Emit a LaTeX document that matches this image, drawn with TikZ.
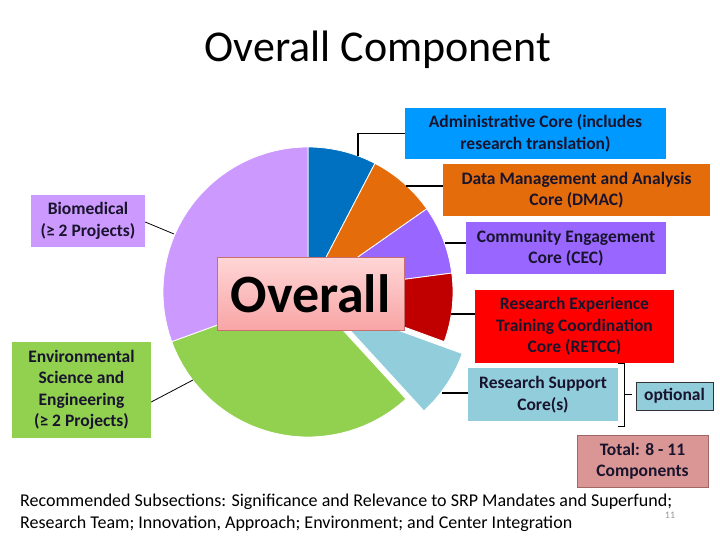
\documentclass[tikz,border=0pt]{standalone}
\usepackage{fontspec}
\setmainfont{Carlito}
\definecolor{pBlue}{RGB}{0,112,192}
\definecolor{pOrange}{RGB}{228,108,10}
\definecolor{pPurple}{RGB}{153,102,255}
\definecolor{pRed}{RGB}{192,0,0}
\definecolor{pLBlue}{RGB}{146,205,220}
\definecolor{pGreen}{RGB}{146,208,80}
\definecolor{pLav}{RGB}{204,153,255}
\definecolor{bBlue}{RGB}{0,153,255}
\definecolor{bRed}{RGB}{255,0,0}
\definecolor{bTotal}{RGB}{217,150,148}
\definecolor{txtDark}{RGB}{25,20,45}
\definecolor{pinkTop}{RGB}{255,214,214}
\definecolor{pinkBot}{RGB}{248,165,165}
\definecolor{pinkLine}{RGB}{200,110,110}
\begin{document}
\begin{tikzpicture}[x=1pt,y=-1pt,
  box/.style={inner sep=0pt, align=center, text=txtDark,
    font=\bfseries\fontsize{17.5}{21.5}\selectfont},
  conn/.style={draw=black, line width=1.5pt},
  thin conn/.style={draw=black, line width=0.8pt},
  slice/.style={draw=white, line width=0.8pt}]
\useasboundingbox (0,0) rectangle (720,540);
\fill[white] (0,0) rectangle (720,540);

% title
\node[font=\fontsize{44}{50}\selectfont] (title) at (378,50) {Overall Component};

% pie
\coordinate (c) at (308,292);
\filldraw[slice, fill=pBlue]   (c) -- ++(90:145pt)  arc[start angle=90,  end angle=62.5, radius=145pt] -- cycle;
\filldraw[slice, fill=pOrange] (c) -- ++(62.5:145pt) arc[start angle=62.5, end angle=35,  radius=145pt] -- cycle;
\filldraw[slice, fill=pPurple] (c) -- ++(35:145pt)  arc[start angle=35,  end angle=7.5,  radius=145pt] -- cycle;
\filldraw[slice, fill=pRed]    (c) -- ++(7.5:145pt) arc[start angle=7.5, end angle=-20,  radius=145pt] -- cycle;
\filldraw[slice, fill=pGreen]  (c) -- ++(-47.5:145pt) arc[start angle=-47.5, end angle=-160, radius=145pt] -- cycle;
\filldraw[slice, fill=pLav]    (c) -- ++(200:145pt) arc[start angle=200, end angle=90, radius=145pt] -- cycle;
\coordinate (c2) at (326,304);
\filldraw[slice, fill=pLBlue]  (c2) -- ++(-20:145pt) arc[start angle=-20, end angle=-47.5, radius=145pt] -- cycle;

% centre box
\node[draw=pinkLine, line width=0.8pt, top color=pinkTop, bottom color=pinkBot,
  minimum width=187pt, minimum height=73pt, inner sep=0pt,
  font=\bfseries\fontsize{54}{60}\selectfont] (overall) at (310.5,293.5) {Overall};

% right-hand boxes
\node[box, fill=bBlue, minimum width=261pt, minimum height=51pt] (admin) at (535.5,133.5)
  {Administrative Core (includes\\research translation)};
\node[box, fill=pOrange, minimum width=267pt, minimum height=52pt] (dmac) at (576.5,190)
  {Data Management and Analysis\\Core (DMAC)};
\node[box, fill=pPurple, minimum width=200pt, minimum height=52pt] (cec) at (566,248)
  {Community Engagement\\Core (CEC)};
\node[box, fill=bRed, minimum width=199pt, minimum height=73pt] (retcc) at (574.5,326.5)
  {Research Experience\\Training Coordination\\Core (RETCC)};
\node[box, fill=pLBlue, minimum width=150pt, minimum height=53pt] (rsc) at (543,394.5)
  {Research Support\\Core(s)};
\node[box, fill=pLBlue, draw=black!80, line width=0.8pt, minimum width=77pt, minimum height=28pt] (opt) at (674.5,396)
  {optional};
\node[box, fill=bTotal, draw=black!60!red!60, line width=0.8pt, minimum width=131pt, minimum height=52pt] (total) at (642.5,461)
  {Total: 8 - 11\\Components};

% left-hand boxes
\node[box, fill=pLav, minimum width=114pt, minimum height=52pt] (bio) at (88,221)
  {Biomedical\\(≥ 2 Projects)};
\node[box, fill=pGreen, minimum width=139pt, minimum height=96pt] (env) at (81.5,390)
  {Environmental\\Science and\\Engineering\\(≥ 2 Projects)};

% connector anchor points on pie
\coordinate (pA) at (358,156);
\coordinate (pD) at (406,186);
\coordinate (pC) at (445,243);
\coordinate (pR) at (451,314);
\coordinate (pS) at (442,393);
\coordinate (pB) at (174,234);
\coordinate (pE) at (193,380);

\draw[conn] (pA) |- (admin.west);
\draw[conn] (pD) -- (pD -| dmac.west);
\draw[conn] (pC) -- (pC -| cec.west);
\draw[conn] (pR) -- (pR -| retcc.west);
\draw[conn] (pS) -- (pS -| rsc.west);
\draw[thin conn] ([yshift=-1pt]bio.east) -- (pB);
\draw[thin conn] ([yshift=-12pt]env.east) -- (pE);

% bracket
\coordinate (bt) at (624,363);
\coordinate (bb) at (624,426);
\draw[line width=0.8pt] ([xshift=-6pt]bt) -- (bt) -- (bb) -- ([xshift=-6pt]bb);
\coordinate (bm) at (624,394);
\coordinate (bmEnd) at (632,394);
\draw[line width=0.8pt] (bm) -- (bmEnd);

% bottom text
\node[anchor=base west, inner sep=0pt, font=\fontsize{18}{22}\selectfont] (rec1) at (20,506)
  {Recommended Subsections: Significance and Relevance to SRP Mandates and Superfund;};
\node[anchor=base west, inner sep=0pt, font=\fontsize{18}{22}\selectfont] (rec2) at (20,528)
  {Research Team; Innovation, Approach; Environment; and Center Integration};
\node[text=black!40, font=\fontsize{10}{12}\selectfont, inner sep=0pt] (pg) at (670,515) {11};
\end{tikzpicture}
\end{document}
